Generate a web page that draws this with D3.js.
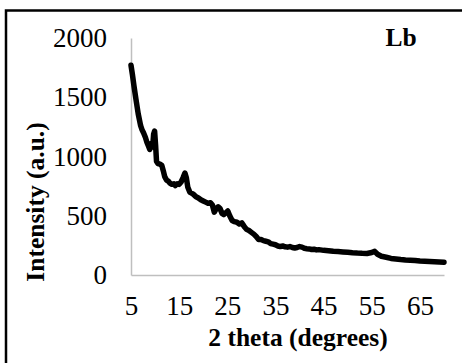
<!DOCTYPE html>
<html>
<head>
<meta charset="utf-8">
<script src="https://cdn.jsdelivr.net/npm/d3@7"></script>
<style>
  body { margin: 0; background: #fff; }
  svg { display: block; font-family: "Liberation Serif", "Times New Roman", serif; }
</style>
</head>
<body>
<div id="chart"></div>
<script>
// 2 theta (degrees)
var theta = [
  5.0, 5.3, 5.6, 6.0, 6.5, 7.0, 7.3, 7.6, 8.0, 8.3, 8.6, 8.9, 9.2, 9.5, 9.7, 9.9,
  10.1, 10.3, 10.6, 11.0, 11.4, 11.7, 12.0, 12.4, 12.8, 13.1, 13.5, 13.9, 14.2, 14.6,
  15.0, 15.4, 15.8, 16.2, 16.5, 16.8, 17.2, 17.6, 18.0, 18.5, 19.0, 19.5, 20.0, 20.5,
  21.0, 21.5, 21.9, 22.3, 22.7, 23.1, 23.5, 23.9, 24.3, 24.7, 25.1, 25.5, 26.0, 26.5,
  27.0, 27.5, 28.0, 28.5, 29.0, 29.5, 30.0, 30.5, 31.0, 31.5, 32.0, 32.5, 33.0, 33.5,
  34.0, 34.5, 35.0, 35.5, 36.0, 36.5, 37.0, 37.5, 38.0, 38.5, 39.0, 39.5, 40.0, 40.5,
  41.0, 41.5, 42.0, 42.5, 43.0, 43.5, 44.0, 45, 46, 47, 48, 49, 50, 51, 52, 53, 54,
  55, 55.6, 56.2, 57, 58, 59, 60, 61, 62, 63, 64, 65, 66, 67, 68, 69, 70
];
// Intensity (a.u.)
var intensity = [
  1770, 1690, 1600, 1490, 1360, 1260, 1225, 1200, 1160, 1120, 1090, 1060, 1110, 1080, 1190, 1215,
  1100, 960, 940, 935, 925, 880, 830, 800, 790, 775, 765, 770, 755, 770,
  765, 785, 820, 860, 820, 740, 700, 690, 680, 660, 650, 635, 625, 615,
  605, 610, 590, 530, 560, 575, 560, 520, 510, 525, 540, 500, 460, 450,
  445, 430, 440, 410, 385, 375, 360, 345, 325, 300, 300, 290, 285, 280,
  265, 260, 255, 245, 240, 245, 238, 235, 240, 232, 228, 232, 240, 235,
  225, 222, 220, 215, 218, 212, 214, 208, 205, 200, 198, 195, 192, 188, 185, 183, 182,
  190, 200, 175, 158, 150, 140, 135, 130, 126, 124, 122, 118, 116, 114, 112, 110, 108
];
var xTicks = [5, 15, 25, 35, 45, 55, 65];
var yTicks = [0, 500, 1000, 1500, 2000];

var width = 462, height = 363;

var data = theta.map(function(t, i) { return { t: t, v: intensity[i] }; });

var x = d3.scaleLinear().domain([5, 70]).range([131, 444]);
var y = d3.scaleLinear().domain([0, 2000]).range([275, 38]);

var svg = d3.select("#chart").append("svg")
    .attr("width", width)
    .attr("height", height);

svg.append("rect").attr("width", width).attr("height", height).attr("fill", "#fff");

// outer frame (only top and left edges show)
svg.append("path")
    .attr("d", "M6,366 V10.5 H466")
    .attr("fill", "none")
    .attr("stroke", "#000")
    .attr("stroke-width", 2.5);

var xAxis = svg.append("g")
    .attr("transform", "translate(0,275)")
    .call(d3.axisBottom(x).tickValues(xTicks).tickSize(0).tickSizeOuter(0)
      .tickPadding(21).tickFormat(d3.format("d")));

var yAxis = svg.append("g")
    .attr("transform", "translate(131,0)")
    .call(d3.axisLeft(y).tickValues(yTicks).tickSize(0).tickSizeOuter(0)
      .tickPadding(24).tickFormat(d3.format("d")));

[xAxis, yAxis].forEach(function(a) {
  a.select(".domain").attr("stroke", "#bfbfbf").attr("stroke-width", 1.5);
  a.selectAll("text")
    .attr("font-family", "Liberation Serif, Times New Roman, serif")
    .attr("font-size", 27)
    .attr("fill", "#000");
});

var line = d3.line()
    .x(function(d) { return x(d.t); })
    .y(function(d) { return y(d.v); });

svg.append("path")
    .datum(data)
    .attr("d", line)
    .attr("fill", "none")
    .attr("stroke", "#000")
    .attr("stroke-width", 5.5)
    .attr("stroke-linejoin", "round")
    .attr("stroke-linecap", "round");

svg.append("text")
    .attr("x", 298)
    .attr("y", 346)
    .attr("text-anchor", "middle")
    .attr("font-weight", "bold")
    .attr("font-size", 25.5)
    .text("2 theta (degrees)");

svg.append("text")
    .attr("transform", "translate(44,202) rotate(-90)")
    .attr("text-anchor", "middle")
    .attr("font-weight", "bold")
    .attr("font-size", 25.5)
    .text("Intensity (a.u.)");

svg.append("text")
    .attr("x", 401)
    .attr("y", 46)
    .attr("text-anchor", "middle")
    .attr("font-weight", "bold")
    .attr("font-size", 25.5)
    .text("Lb");
</script>
</body>
</html>
